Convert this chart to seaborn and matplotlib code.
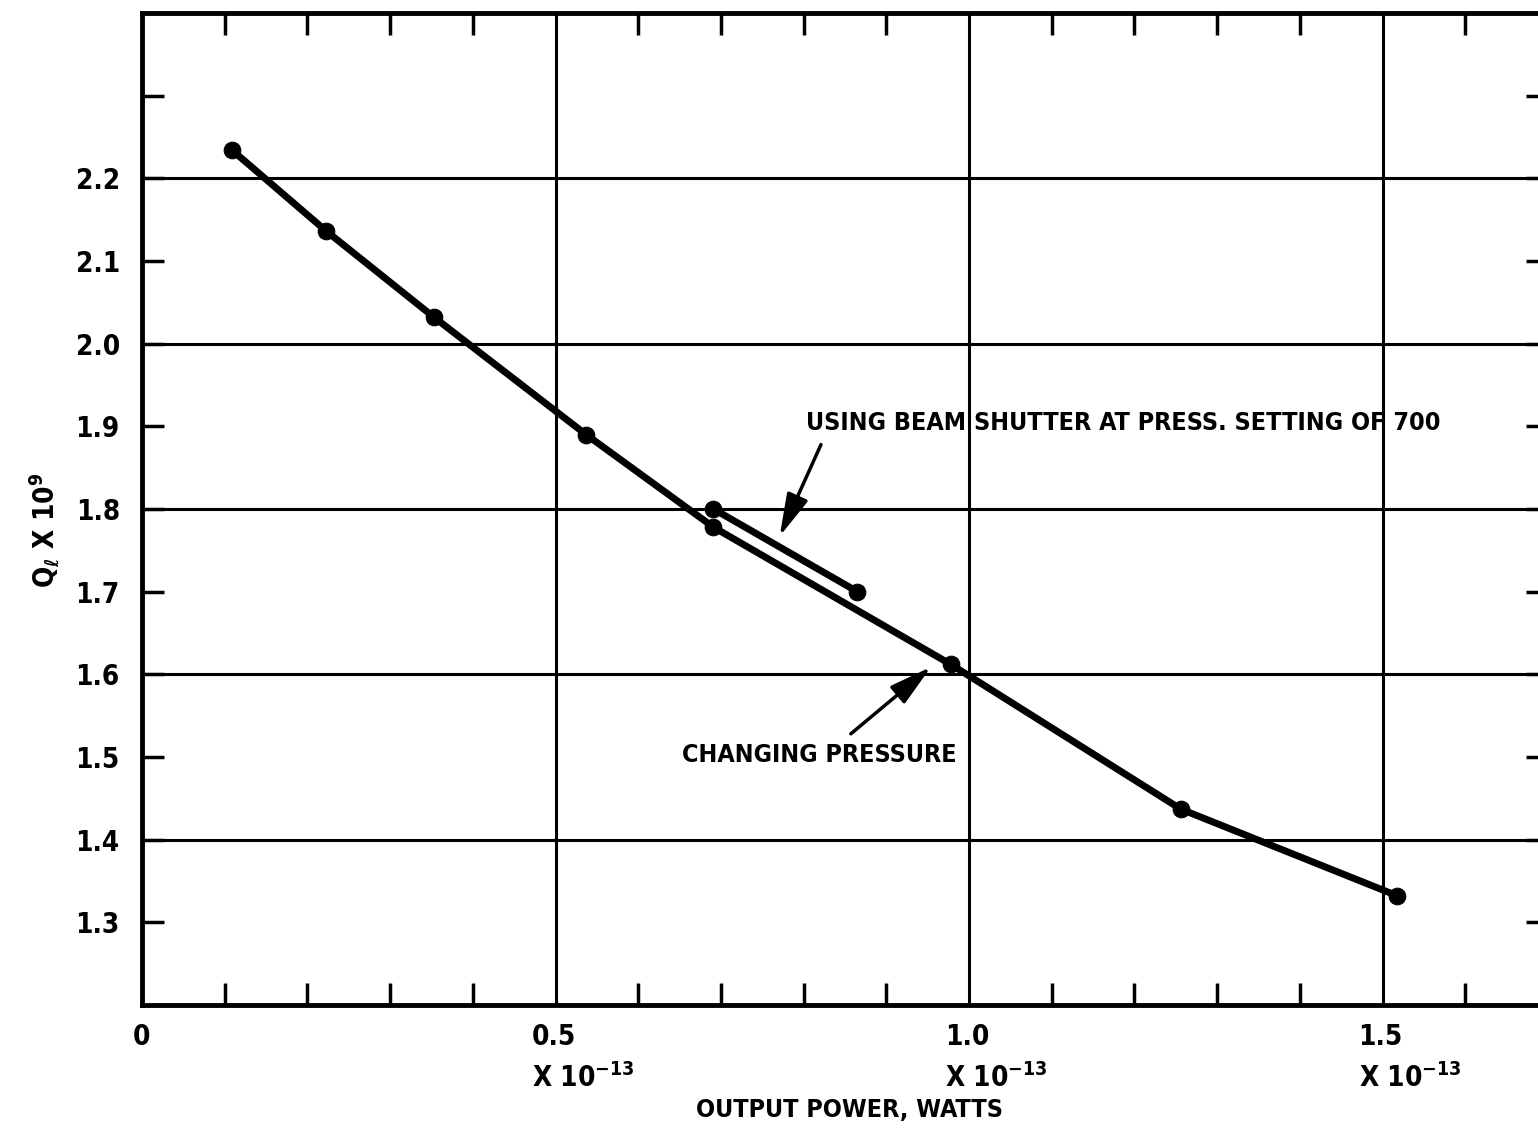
import numpy as np
import pandas as pd
import matplotlib
matplotlib.use("Agg")
import matplotlib.pyplot as plt
import matplotlib.transforms as mtransforms
import seaborn as sns

# data (output power in units of 1e-13 W, Q_l in units of 1e-9)
power_pressure = [0.109, 0.223, 0.353, 0.537, 0.691, 0.978, 1.256, 1.518]
q_pressure = [2.234, 2.136, 2.032, 1.890, 1.778, 1.612, 1.437, 1.332]
power_shutter = [0.691, 0.865]
q_shutter = [1.800, 1.700]

x_labels = ["0.5", "1.0", "1.5"]
x_label_pos = [0.5, 1.0, 1.5]
y_ticks = [1.3, 1.4, 1.5, 1.6, 1.7, 1.8, 1.9, 2.0, 2.1, 2.2, 2.3]
y_grid = [1.4, 1.6, 1.8, 2.0, 2.2]
x_grid = [0.5, 1.0, 1.5]

sns.set_style("white")
plt.rcParams["font.family"] = ["DejaVu Sans"]
plt.rcParams["font.stretch"] = "condensed"
plt.rcParams["font.weight"] = "bold"
plt.rcParams["mathtext.default"] = "regular"
plt.rcParams["text.color"] = "black"
plt.rcParams["xtick.color"] = "black"
plt.rcParams["ytick.color"] = "black"
font = dict(fontsize=20, fontweight="bold", fontstretch="condensed", color="black")
small = dict(font, fontsize=18)

fig = plt.figure(figsize=(15.38, 11.28), dpi=100)
ax = fig.add_axes([142 / 1538, 1 - 1005 / 1128, (1548 - 142) / 1538, (1005 - 13) / 1128])
ax.set_xlim(0, 1.7)
ax.set_ylim(1.2, 2.4)

for y in y_grid:
    ax.axhline(y, color="black", lw=2.2, zorder=1)
for x in x_grid:
    ax.axvline(x, color="black", lw=2.2, zorder=1)

df_p = pd.DataFrame({"power": power_pressure, "q": q_pressure})
df_s = pd.DataFrame({"power": power_shutter, "q": q_shutter})
sns.lineplot(data=df_p, x="power", y="q", ax=ax, color="black", lw=5, marker="o",
             markersize=12, markeredgecolor="black", sort=False, zorder=3)
sns.lineplot(data=df_s, x="power", y="q", ax=ax, color="black", lw=5, marker="o",
             markersize=12, markeredgecolor="black", sort=False, zorder=3)

for s in ax.spines.values():
    s.set_linewidth(3.5)
    s.set_color("black")

# ticks
ax.set_xticks([0.1, 0.2, 0.3, 0.4, 0.6, 0.7, 0.8, 0.9, 1.1, 1.2, 1.3, 1.4, 1.6])
ax.set_xticklabels([])
ax.tick_params(axis="x", direction="in", length=16, width=2.5, top=True, bottom=True)
ax.set_yticks(y_ticks)
ax.set_yticklabels([f"{v:.1f}" if v < 2.25 else "" for v in y_ticks], **font)
ax.tick_params(axis="y", direction="in", length=16, width=2.5, left=True, right=True, pad=16)
ax.set_xlabel("")
ax.set_ylabel("")

# x tick labels with exponent lines
tr = mtransforms.blended_transform_factory(ax.transData, ax.transAxes)
ax.text(0.0, -0.032, "0", transform=tr, ha="center", va="center", **font)
for pos, lab in zip(x_label_pos, x_labels):
    ax.text(pos - 0.029, -0.032, lab, transform=tr, ha="left", va="center", **font)
    ax.text(pos - 0.029, -0.074, "X 10$^{-13}$", transform=tr, ha="left", va="center", **font)
ax.text(0.856, -0.106, "OUTPUT POWER, WATTS", transform=tr,
        ha="center", va="center", **small)
fig.text(45 / 1538, 1 - 530 / 1128, "Q$_\\ell$ X 10$^9$", rotation=90,
         ha="center", va="center", **font)

# annotations
arrow = dict(arrowstyle="-|>,head_length=0.65,head_width=0.17", color="black", lw=2.5,
             mutation_scale=40, shrinkA=0, shrinkB=0)
ax.text(0.803, 1.904, "USING BEAM SHUTTER AT PRESS. SETTING OF 700", ha="left", va="center", **small)
ax.annotate("", xy=(0.771, 1.767), xytext=(0.821, 1.878), arrowprops=arrow)
ax.text(0.653, 1.503, "CHANGING PRESSURE", ha="left", va="center", **small)
ax.annotate("", xy=(0.954, 1.609), xytext=(0.857, 1.528), arrowprops=arrow)

fig.savefig("out.png", dpi=100, facecolor="white")
